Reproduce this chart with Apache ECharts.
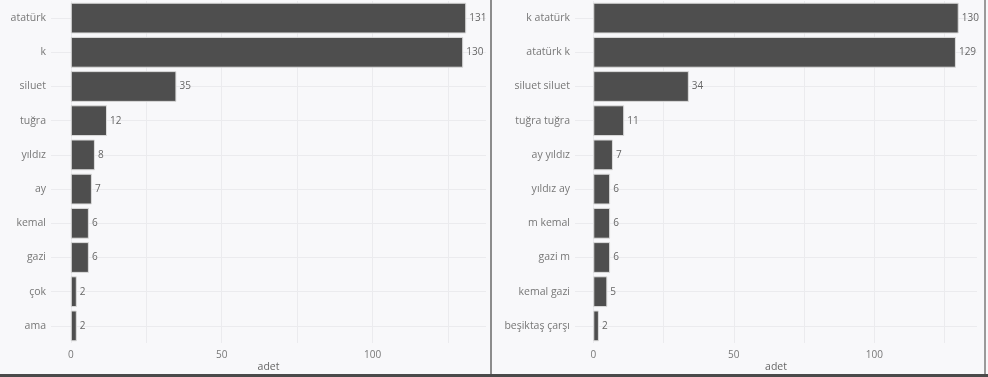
<!DOCTYPE html>
<html>
<head>
<meta charset="utf-8">
<script src="https://cdn.jsdelivr.net/npm/echarts@6/dist/echarts.min.js"></script>
<style>
html,body{margin:0;padding:0;background:#f8f8fa;}
#chart{width:988px;height:377px;}
</style>
</head>
<body>
<div id="chart"></div>
<script>
// kelimeler (sol) ve ikili kelimeler (sag)
var wordCats = ['atatürk', 'k', 'siluet', 'tuğra', 'yıldız', 'ay', 'kemal', 'gazi', 'çok', 'ama'];
var wordVals = [131, 130, 35, 12, 8, 7, 6, 6, 2, 2];
var pairCats = ['k atatürk', 'atatürk k', 'siluet siluet', 'tuğra tuğra', 'ay yıldız', 'yıldız ay', 'm kemal', 'gazi m', 'kemal gazi', 'beşiktaş çarşı'];
var pairVals = [130, 129, 34, 11, 7, 6, 6, 6, 5, 2];
var xTicks = [0, 50, 100];
var xName = 'adet';

var font = '"Open Sans", sans-serif';
var gridCol = '#ebebee';

function valAxis(idx, maxVal){
	var pad = maxVal * 0.05;
	return {
		type: 'value', gridIndex: idx,
		min: -pad, max: maxVal + pad,
		minInterval: 25, maxInterval: 25,
		name: xName, nameLocation: 'middle', nameGap: 19, nameMoveOverlap: false,
		nameTextStyle: {color: '#666', fontSize: 10.5, fontFamily: font},
		axisLine: {show: false}, axisTick: {show: false},
		axisLabel: {
			color: '#777', fontSize: 10, fontFamily: font, margin: 7,
			showMinLabel: false, showMaxLabel: false,
			formatter: function(v){ return xTicks.indexOf(v) >= 0 ? String(v) : ''; }
		},
		splitLine: {show: true, showMinLine: false, showMaxLine: false, lineStyle: {color: gridCol, width: 1}}
	};
}
function catAxis(idx, cats){
	return {
		type: 'category', gridIndex: idx, data: cats, inverse: true,
		axisLine: {show: false}, axisTick: {show: false},
		axisLabel: {color: '#777', fontSize: 10.5, fontFamily: font, margin: 5},
		splitLine: {show: true, alignWithLabel: true, lineStyle: {color: gridCol, width: 1}}
	};
}
function barSeries(idx, vals){
	return {
		type: 'bar', xAxisIndex: idx, yAxisIndex: idx, data: vals,
		barCategoryGap: '10%',
		itemStyle: {color: '#4e4e4e', borderColor: '#dcdcdc', borderWidth: 1},
		label: {show: true, position: 'right', distance: 3, color: '#666', fontSize: 10, fontFamily: font},
		silent: true
	};
}

var myChart = echarts.init(document.getElementById('chart'));
var options = {
	backgroundColor: '#f8f8fa',
	animation: false,
	grid: [
		{left: 51, width: 435, top: 1, height: 342, outerBoundsMode: 'none', containLabel: false},
		{left: 575, width: 402, top: 1, height: 342, outerBoundsMode: 'none', containLabel: false}
	],
	xAxis: [valAxis(0, 131), valAxis(1, 130)],
	yAxis: [catAxis(0, wordCats), catAxis(1, pairCats)],
	series: [barSeries(0, wordVals), barSeries(1, pairVals)],
	graphic: [
		{type: 'rect', shape: {x: 490, y: 0, width: 2, height: 377}, style: {fill: '#8c8c8c'}, silent: true},
		{type: 'rect', shape: {x: 984, y: 0, width: 2, height: 377}, style: {fill: '#9a9a9a'}, silent: true},
		{type: 'rect', shape: {x: 0, y: 374, width: 988, height: 3}, style: {fill: '#4a4a4a'}, silent: true}
	]
};
myChart.setOption(options);
</script>
</body>
</html>
